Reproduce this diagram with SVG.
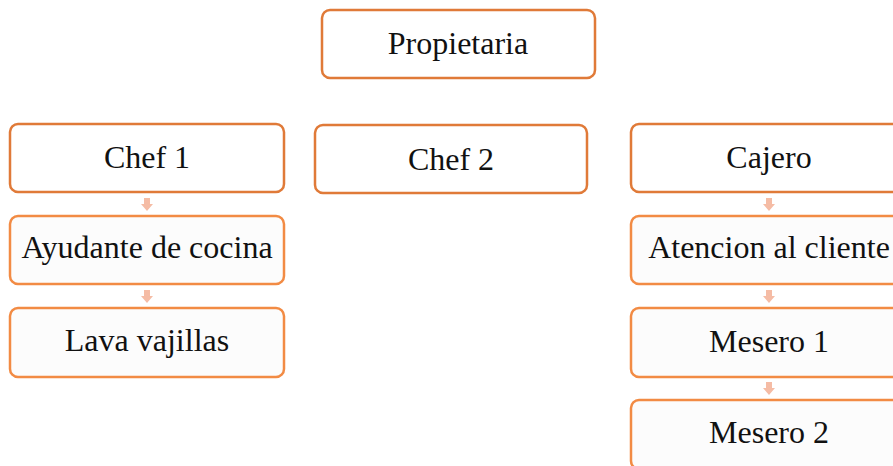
<svg xmlns="http://www.w3.org/2000/svg" width="893" height="466" viewBox="0 0 893 466">
<style>
.top{fill:#ffffff;stroke:#e07a38;stroke-width:2.5}
.sub{fill:#fcfcfc;stroke:#f28b44;stroke-width:2.5}
text{font-family:"Liberation Serif","Times New Roman",serif;font-size:32px;fill:#111;text-anchor:middle}
.arr{fill:#f5bca5}
</style>
<defs>
<path id="ar" d="M-3,0 H3 V6 H6 L0,13 L-6,6 H-3 Z"/>
</defs>
<g id="connectors">
<use href="#ar" class="arr" x="147" y="198"/>
<use href="#ar" class="arr" x="147" y="290"/>
<use href="#ar" class="arr" x="769" y="198"/>
<use href="#ar" class="arr" x="769" y="290"/>
<use href="#ar" class="arr" x="769" y="382"/>
</g>
<g id="propietaria"><rect class="top" x="322" y="10" width="273" height="68" rx="8"/><text x="458" y="54">Propietaria</text></g>
<g id="chef1"><rect class="top" x="10" y="124" width="274" height="68" rx="8"/><text x="147" y="168">Chef 1</text></g>
<g id="chef2"><rect class="top" x="315" y="125" width="272" height="68" rx="8"/><text x="451" y="170">Chef 2</text></g>
<g id="cajero"><rect class="top" x="631" y="124" width="276" height="68" rx="8"/><text x="769" y="168">Cajero</text></g>
<g id="ayudante"><rect class="sub" x="10" y="216" width="274" height="68" rx="8"/><text x="147" y="258">Ayudante de cocina</text></g>
<g id="lava"><rect class="sub" x="10" y="308" width="274" height="69" rx="8"/><text x="147" y="351">Lava vajillas</text></g>
<g id="atencion"><rect class="sub" x="631" y="216" width="276" height="68" rx="8"/><text x="769" y="258">Atencion al cliente</text></g>
<g id="mesero1"><rect class="sub" x="631" y="308" width="276" height="69" rx="8"/><text x="769" y="352">Mesero 1</text></g>
<g id="mesero2"><rect class="sub" x="631" y="400" width="276" height="69" rx="8"/><text x="769" y="443">Mesero 2</text></g>
</svg>
